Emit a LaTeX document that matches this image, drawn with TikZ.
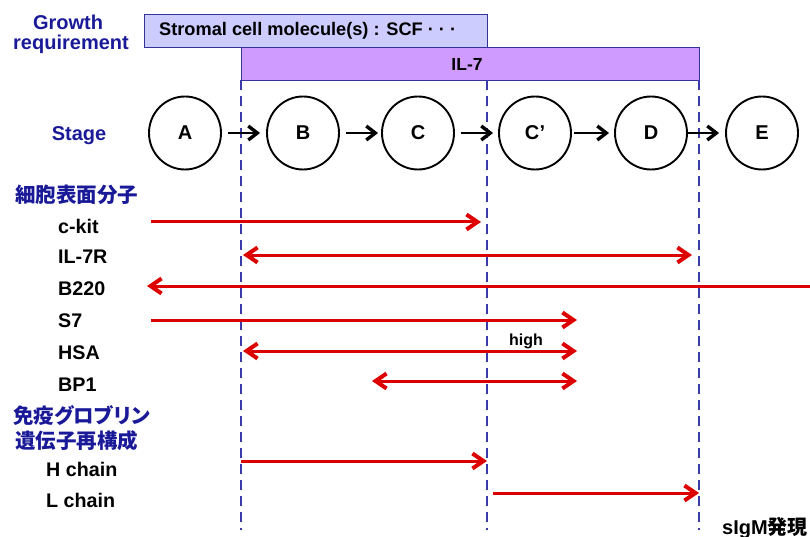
\documentclass[tikz,border=0pt]{standalone}
\usepackage{fontspec}
\setmainfont{Liberation Sans}
\newfontfamily\jp{Noto Sans CJK JP}
\newfontfamily\jpp{Noto Sans CJK JP}[RawFeature={+palt}]
\usetikzlibrary{arrows.meta,shapes.geometric}
\definecolor{navy}{HTML}{1A1A99}
\definecolor{boxline}{HTML}{333399}
\definecolor{scffill}{HTML}{CCCCFF}
\definecolor{ilfill}{HTML}{D09BFF}
\definecolor{rd}{HTML}{DD0000}
\definecolor{dash}{HTML}{3A3AAA}
\begin{document}
\begin{tikzpicture}[x=1pt,y=-1pt,
  hd/.style={font=\bfseries\fontsize{19.5}{21}\selectfont, text=navy, inner sep=0},
  jhd/.style={font=\jp\bfseries\fontsize{20.5}{22}\selectfont, text=navy, inner sep=0, anchor=west},
  lab/.style={font=\bfseries\fontsize{19.7}{21}\selectfont, anchor=west, inner sep=0},
  stagenode/.style={draw, line width=1.9pt, ellipse, minimum width=72pt, minimum height=73pt, inner sep=0, font=\bfseries\fontsize{20}{22}\selectfont},
  barbox/.style={draw=boxline, line width=1.4pt, anchor=north west, inner sep=0},
  rtip/.tip={Straight Barb[length=11pt,width=15pt,line width=4pt]},
  btip/.tip={Straight Barb[length=9pt,width=14pt,line width=3.4pt]},
  redarrow/.style={draw=rd, line width=3pt, -rtip},
  redboth/.style={draw=rd, line width=3pt, rtip-rtip},
  blkarrow/.style={line width=2.7pt, -btip},
  dline/.style={draw=dash, line width=1.8pt, dash pattern=on 10pt off 6pt},
]
\useasboundingbox (0,0) rectangle (810,537);

% growth requirement bars
\node[barbox, fill=scffill, minimum width=343pt, minimum height=33pt] (scf) at (144,14) {};
\node[anchor=west, inner sep=0, font=\bfseries\fontsize{18.2}{20}\selectfont] (scft) at (159,31) {Stromal cell molecule(s) : SCF · · ·};
\node[barbox, fill=ilfill, minimum width=458pt, minimum height=33pt] (il7) at (241,47) {};
\node[inner sep=0, font=\bfseries\fontsize{17.5}{19}\selectfont] (il7t) at (467,64) {IL-7};

\node[hd, font=\bfseries\fontsize{20}{22}\selectfont] (g1) at (68,22) {Growth};
\node[hd, font=\bfseries\fontsize{20}{22}\selectfont] (g2) at (71,44) {requirement};

% dashed lines
\coordinate (d1t) at (241,80); \coordinate (d1b) at (241,530);
\coordinate (d2t) at (487,80); \coordinate (d2b) at (487,530);
\coordinate (d3t) at (699,80); \coordinate (d3b) at (699,530);
\draw[dline] (d1t) -- (d1b);
\draw[dline] (d2t) -- (d2b);
\draw[dline] (d3t) -- (d3b);

% stages
\node[hd, font=\bfseries\fontsize{20}{22}\selectfont] (stage) at (79,136) {Stage};
\node[stagenode] (A) at (185,133) {A};
\node[stagenode] (B) at (303,133) {B};
\node[stagenode] (C) at (418,133) {C};
\node[stagenode] (Cp) at (535,133) {C\kern0.5pt'};
\node[stagenode] (D) at (651,133) {D};
\node[stagenode] (E) at (762,133) {E};
\draw[blkarrow, shorten <=6pt, shorten >=6pt] (A) -- (B);
\draw[blkarrow, shorten <=6pt, shorten >=3pt] (B) -- (C);
\draw[blkarrow, shorten <=6pt, shorten >=5pt] (C) -- (Cp);
\draw[blkarrow, shorten <=2pt, shorten >=5pt] (Cp) -- (D);
\draw[blkarrow, shorten <=0pt, shorten >=6pt] (D) -- (E);

% surface molecules
\node[jhd] (surf) at (15,195) {細胞表面分子};
\node[lab] (ckit) at (58,226) {c-kit};
\node[lab] (il7r) at (58,257) {IL-7R};
\node[lab] (b220) at (58,289) {B220};
\node[lab] (s7) at (58,321) {S7};
\node[lab] (hsa) at (58,353) {HSA};
\node[lab] (bp1) at (58,385) {BP1};

\coordinate (ck1) at (151,222); \coordinate (ck2) at (481,222);
\coordinate (ir1) at (243,255); \coordinate (ir2) at (692,255);
\coordinate (b1) at (810,286); \coordinate (b2) at (147,286);
\coordinate (s1) at (151,320); \coordinate (s2) at (577,320);
\coordinate (h1) at (243,351); \coordinate (h2) at (577,351);
\coordinate (p1) at (372,381); \coordinate (p2) at (577,381);
\draw[redarrow] (ck1) -- (ck2);
\draw[redboth] (ir1) -- (ir2);
\draw[redarrow] (b1) -- (b2);
\draw[redarrow] (s1) -- (s2);
\draw[redboth] (h1) -- (h2);
\draw[redboth] (p1) -- (p2);
\node[inner sep=0, font=\bfseries\fontsize{16}{18}\selectfont] (high) at (526,341) {high};

% immunoglobulin
\node[jhd, font=\jpp\bfseries\fontsize{20.5}{22}\selectfont] (ig1) at (13,416) {免疫グロブリン};
\node[jhd] (ig2) at (15,441) {遺伝子再構成};
\node[lab] (hch) at (46,469) {H chain};
\node[lab] (lch) at (46,500) {L chain};
\coordinate (hc1) at (241,461); \coordinate (hc2) at (487,461);
\coordinate (lc1) at (493,493); \coordinate (lc2) at (699,493);
\draw[redarrow] (hc1) -- (hc2);
\draw[redarrow] (lc1) -- (lc2);

\node[anchor=west, inner sep=0, font=\bfseries\fontsize{20}{22}\selectfont] (sigm) at (722,528) {sIgM{\jp 発現}};
\end{tikzpicture}
\end{document}
